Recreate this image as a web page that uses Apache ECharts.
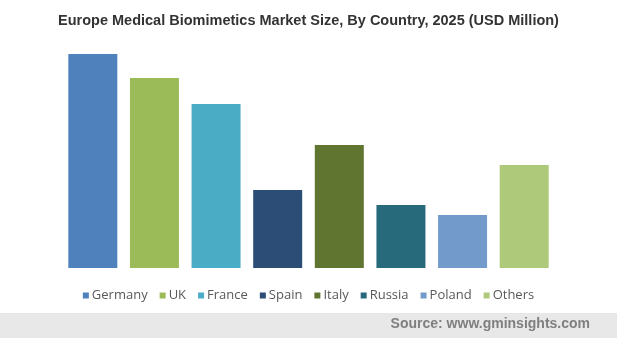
<!DOCTYPE html>
<html><head><meta charset="utf-8">
<script src="https://cdn.jsdelivr.net/npm/echarts@6/dist/echarts.min.js"></script>
<style>html,body{margin:0;padding:0;background:#fff}#c{width:617px;height:338px}</style>
</head><body><div id="c"></div>
<script>
const categories = ['Germany','UK','France','Spain','Italy','Russia','Poland','Others'];
const values = [214, 190, 164, 78, 123, 63, 53, 103];
const colors = ['#4F81BD','#9BBB59','#4BACC6','#2C4D75','#5F7530','#276A7C','#729ACA','#AFC97A'];

const series = categories.map((name, i) => ({
  name: name,
  type: 'bar',
  stack: 'all',
  barWidth: 49,
  itemStyle: { color: colors[i] },
  data: categories.map((c, j) => j === i ? values[i] : '-')
}));

const chart = echarts.init(document.getElementById('c'), null, {renderer: 'canvas'});
chart.setOption({
  animation: false,
  backgroundColor: '#fff',
  title: {
    text: 'Europe Medical Biomimetics Market Size, By Country, 2025 (USD Million)',
    left: 'center', top: 8,
    textStyle: { fontFamily: 'Liberation Sans', fontWeight: 'bold', fontSize: 14.5, color: '#333333' }
  },
  grid: { left: 62, right: 62, top: 48, bottom: 70 },
  xAxis: { type: 'category', data: categories, show: false },
  yAxis: { type: 'value', min: 0, max: 220, show: false, splitLine: { show: false } },
  legend: {
    data: categories, top: 284, left: 'center',
    itemWidth: 6, itemHeight: 6, itemGap: 12, icon: 'rect',
    textStyle: { fontFamily: 'Open Sans', fontSize: 13, color: '#595959', padding: [0,0,0,-2] }
  },
  graphic: [
    { type: 'rect', left: 0, top: 313, shape: { width: 617, height: 25 }, style: { fill: '#e8e8e8' }, silent: true },
    { type: 'text', right: 27, top: 317, style: { text: 'Source: www.gminsights.com', font: 'bold 14px "Liberation Sans"', fill: '#7f7f7f' } }
  ],
  series: series
});
</script></body></html>
